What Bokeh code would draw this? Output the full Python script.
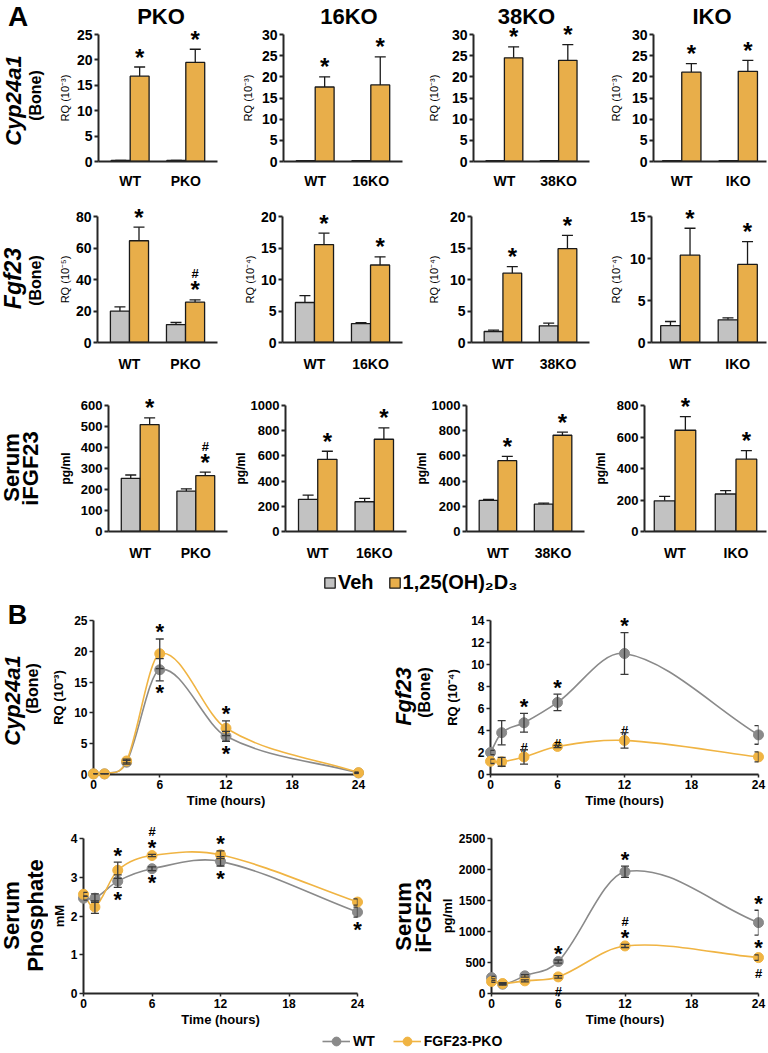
import numpy as np
from bokeh.plotting import figure
from bokeh.models import (ColumnDataSource, FactorRange, Range1d, Whisker, TeeHead,
                          Legend, LegendItem, FixedTicker)
from bokeh.transform import dodge
from bokeh.layouts import row, column
from bokeh.embed import file_html
from bokeh.resources import INLINE
from bokeh.core.properties import value

FONT = "Liberation Sans"
BAR_GRAY = "#C2C2C2"
BAR_ORANGE = "#E8AE4A"
LINE_GRAY = "#8A8A8A"
LINE_ORANGE = "#F0B443"
AXIS = "#262626"
ERR = "#3A3A3A"

# ================= Panel A data =================
genotypes = ["PKO", "16KO", "38KO", "IKO"]

cyp_veh_wt = [0.2, 0.2, 0.2, 0.2]
cyp_veh_wt_err = [0.0, 0.0, 0.0, 0.0]
cyp_d3_wt = [16.8, 17.6, 24.5, 21.1]
cyp_d3_wt_err = [1.8, 2.4, 2.6, 2.0]
cyp_veh_ko = [0.2, 0.2, 0.2, 0.2]
cyp_veh_ko_err = [0.0, 0.0, 0.0, 0.0]
cyp_d3_ko = [19.5, 18.1, 23.9, 21.3]
cyp_d3_ko_err = [2.6, 6.6, 3.7, 2.6]
cyp_ymax = [25, 30, 30, 30]
cyp_ystep = [5, 5, 5, 5]
cyp_ylabel = ["RQ (10⁻³)", "RQ (10⁻³)", "RQ (10⁻³)", "RQ (10⁻³)"]
cyp_hash = ["", "", "", ""]

fgf_veh_wt = [19.9, 6.35, 1.75, 2.0]
fgf_veh_wt_err = [2.7, 1.1, 0.2, 0.5]
fgf_d3_wt = [64.6, 15.55, 11.0, 10.4]
fgf_d3_wt_err = [8.6, 1.8, 1.05, 3.2]
fgf_veh_ko = [11.4, 3.0, 2.65, 2.7]
fgf_veh_ko_err = [1.3, 0.17, 0.42, 0.24]
fgf_d3_ko = [25.6, 12.3, 14.9, 9.3]
fgf_d3_ko_err = [1.5, 1.3, 2.1, 2.7]
fgf_ymax = [80, 20, 20, 15]
fgf_ystep = [20, 5, 5, 5]
fgf_ylabel = ["RQ (10⁻⁵)", "RQ (10⁻⁴)", "RQ (10⁻⁴)", "RQ (10⁻⁴)"]
fgf_hash = ["#", "", "", ""]

ifg_veh_wt = [253, 255, 247, 195]
ifg_veh_wt_err = [16, 34, 8, 28]
ifg_d3_wt = [509, 573, 562, 643]
ifg_d3_wt_err = [32, 64, 35, 87]
ifg_veh_ko = [192, 236, 217, 238]
ifg_veh_ko_err = [11, 27, 8, 21]
ifg_d3_ko = [266, 732, 764, 459]
ifg_d3_ko_err = [17, 90, 24, 55]
ifg_ymax = [600, 1000, 1000, 800]
ifg_ystep = [100, 200, 200, 200]
ifg_ylabel = ["pg/ml", "pg/ml", "pg/ml", "pg/ml"]
ifg_hash = ["#", "", "", ""]

# ================= Panel B data =================
time_h = [0, 1, 3, 6, 12, 24]

b_cyp_wt = [0.1, 0.1, 2.0, 17.0, 6.2, 0.25]
b_cyp_wt_err = [0.05, 0.05, 0.3, 1.8, 0.8, 0.1]
b_cyp_ko = [0.1, 0.1, 2.2, 19.6, 7.5, 0.3]
b_cyp_ko_err = [0.05, 0.05, 0.3, 2.4, 1.2, 0.1]

b_fgf_wt = [2.0, 3.8, 4.7, 6.55, 11.0, 3.6]
b_fgf_wt_err = [0.2, 1.1, 0.85, 0.75, 1.9, 0.85]
b_fgf_ko = [1.2, 1.15, 1.6, 2.55, 3.1, 1.6]
b_fgf_ko_err = [0.2, 0.4, 0.65, 0.1, 0.7, 0.45]

b_pho_wt = [2.46, 2.46, 2.9, 3.22, 3.41, 2.1]
b_pho_wt_err = [0.05, 0.11, 0.16, 0.05, 0.12, 0.13]
b_pho_ko = [2.56, 2.23, 3.18, 3.56, 3.58, 2.36]
b_pho_ko_err = [0.05, 0.16, 0.21, 0.03, 0.1, 0.08]

b_ifg_wt = [257, 150, 285, 515, 1963, 1143]
b_ifg_wt_err = [20, 15, 20, 25, 90, 200]
b_ifg_ko = [193, 161, 204, 268, 767, 579]
b_ifg_ko_err = [15, 15, 15, 20, 25, 45]

b_cyp_marks = [("KO", 6, "above", "*"), ("WT", 6, "below", "*"),
               ("KO", 12, "above", "*"), ("WT", 12, "below", "*")]
b_fgf_marks = [("WT", 3, "above", "*"), ("WT", 6, "above", "*"), ("WT", 12, "above", "*"),
               ("KO", 3, "above", "#"), ("KO", 6, "above", "#"), ("KO", 12, "above", "#")]
b_pho_marks = [("KO", 3, "above", "*"), ("WT", 3, "below", "*"),
               ("KO", 6, "above", "*"), ("KO", 6, "above2", "#"), ("WT", 6, "below", "*"),
               ("KO", 12, "above", "*"), ("WT", 12, "below", "*"), ("WT", 24, "below", "*")]
b_ifg_marks = [("WT", 6, "above", "*"), ("KO", 6, "below", "#"),
               ("WT", 12, "above", "*"), ("KO", 12, "above", "*"), ("KO", 12, "above2", "#"),
               ("WT", 24, "above", "*"), ("KO", 24, "above", "*"), ("KO", 24, "below", "#")]

# style of significance marks: (font size px, screen y offset px, positive = down)
MARK_STYLE = {("above", "*"): (22, -7), ("below", "*"): (22, 12),
              ("above", "#"): (13, -2), ("above2", "#"): (13, -23), ("below", "#"): (13, 13)}


def base_fig(W, H, left, top, fw, fh, x_range, y_range, **kw):
    p = figure(width=W, height=H, x_range=x_range, y_range=y_range,
               output_backend="svg", toolbar_location=None,
               min_border_left=left, min_border_right=W - left - fw,
               min_border_top=top, min_border_bottom=H - top - fh, **kw)
    p.outline_line_color = None
    p.grid.visible = False
    return p


def txt(p, x, y, t, size, style="bold", angle=0.0, align="center", baseline="middle", **kw):
    p.text(x=[x], y=[y], text=[t], angle=angle, text_align=align, text_baseline=baseline,
           text_font=value(FONT), text_font_size=size, text_font_style=style,
           text_color="black", level="overlay", **kw)


def label_fig(W, H, top, fh, labels):
    """labels: (text, x px from left, y px from figure top, size, style, angle)"""
    p = base_fig(W, H, 0, top, W, fh, Range1d(0, W), Range1d(0, fh),
                 x_axis_type=None, y_axis_type=None)
    for (t, x, y, size, style, rot) in labels:
        txt(p, x, top + fh - y, t, size, style, rot)
    return p


BW = 0.34


def bar_panel(i, veh_wt, veh_wt_e, d3_wt, d3_wt_e, veh_ko, veh_ko_e, d3_ko, d3_ko_e,
              hashes, ymax, ystep, ylabel, W, H, left, top, fw, fh, rp, lab_so, xso,
              tick_px, ylab_px, ylab_style, title=None, title_dx=0):
    cats = ["WT", genotypes[i]]
    xr = FactorRange(factors=cats, range_padding=rp, range_padding_units="absolute")
    p = base_fig(W, H, left, top, fw, fh, xr, Range1d(0, ymax[i]))
    src = ColumnDataSource(dict(
        g=cats,
        veh=[veh_wt[i], veh_ko[i]],
        veh_hi=[veh_wt[i] + veh_wt_e[i], veh_ko[i] + veh_ko_e[i]],
        d3=[d3_wt[i], d3_ko[i]],
        d3_hi=[d3_wt[i] + d3_wt_e[i], d3_ko[i] + d3_ko_e[i]],
        star=["*", "*"],
        hash=["", hashes[i]],
    ))
    xl = dodge("g", -BW / 2, range=p.x_range)
    xr_ = dodge("g", BW / 2, range=p.x_range)
    for xx, top_col, hi_col, col in ((xl, "veh", "veh_hi", BAR_GRAY), (xr_, "d3", "d3_hi", BAR_ORANGE)):
        p.add_layout(Whisker(base=xx, lower=top_col, upper=hi_col, source=src,
                             line_color="#1a1a1a", line_width=1.3,
                             upper_head=TeeHead(size=11, line_color="#1a1a1a", line_width=1.3),
                             lower_head=None))
        p.vbar(x=xx, top=top_col, width=BW, source=src, fill_color=col,
               line_color="#1a1a1a", line_width=1.3)
    p.text(x=xr_, y="d3_hi", text="star", source=src, y_offset=-10,
           text_align="center", text_baseline="alphabetic", text_font=value(FONT),
           text_font_size="24px", text_font_style="bold", text_color="black", level="overlay")
    p.text(x=xr_, y="d3_hi", text="hash", source=src, y_offset=-26,
           text_align="center", text_baseline="alphabetic", text_font=value(FONT),
           text_font_size="13px", text_font_style="bold", text_color="black", level="overlay")
    for ax in (p.xaxis[0], p.yaxis[0]):
        ax.axis_line_width = 2
        ax.axis_line_color = AXIS
        ax.minor_tick_line_color = None
        ax.major_label_text_font = FONT
        ax.major_label_text_font_style = "bold"
        ax.major_label_text_color = "black"
    p.xaxis.major_tick_line_color = None
    p.xaxis.major_label_text_font_size = "14px"
    p.xaxis.major_label_standoff = xso
    p.yaxis.ticker = FixedTicker(ticks=list(range(0, ymax[i] + 1, ystep[i])))
    p.yaxis.major_tick_out = 4
    p.yaxis.major_tick_in = 0
    p.yaxis.major_tick_line_width = 2
    p.yaxis.major_tick_line_color = AXIS
    p.yaxis.major_label_text_font_size = tick_px
    p.yaxis.major_label_standoff = 2
    p.yaxis.axis_label = ylabel[i]
    p.yaxis.axis_label_text_font = FONT
    p.yaxis.axis_label_text_font_size = ylab_px
    p.yaxis.axis_label_text_font_style = ylab_style
    p.yaxis.axis_label_text_color = "black"
    p.yaxis.axis_label_standoff = lab_so
    if title:
        tsrc = ColumnDataSource(dict(g=["WT"], y=[ymax[i]], t=[title]))
        p.text(x=dodge("g", 0.5, range=p.x_range), y="y", text="t", source=tsrc,
               x_offset=title_dx, y_offset=-18, text_align="center", text_baseline="middle",
               text_font=value(FONT), text_font_size="22px", text_font_style="bold",
               text_color="black", level="overlay")
    return p


ROT = np.pi / 2

# ---------- panel A, row 1 (Cyp24a1) ----------
W12 = [183, 186, 182, 162]
LEFT1 = [42, 44, 45, 46]
FW1 = [120, 120, 120, 114]
RP12 = [0.07, 0.07, 0.07, 0.0]
SO1 = [3, 5, 9, 7]
TDX = [3, 6, -5, 2]
rowA1 = [bar_panel(i, cyp_veh_wt, cyp_veh_wt_err, cyp_d3_wt, cyp_d3_wt_err, cyp_veh_ko,
                   cyp_veh_ko_err, cyp_d3_ko, cyp_d3_ko_err, cyp_hash, cyp_ymax, cyp_ystep,
                   cyp_ylabel, W12[i], 196, LEFT1[i], 34, FW1[i], 127, RP12[i], SO1[i], 5,
                   "14px", "11px", "normal", title=genotypes[i], title_dx=TDX[i])
         for i in range(4)]
labA1 = label_fig(55, 196, 34, 127, [("A", 17.5, 16, "28px", "bold", 0),
                                     ("Cyp24a1", 13, 100, "22px", "bold italic", ROT),
                                     ("(Bone)", 34.5, 95, "16px", "bold", ROT)])

# ---------- row 2 (Fgf23) ----------
LEFT2 = [42, 44, 45, 44]
FW2 = [120, 120, 120, 116]
SO2 = [2, 2, 7, 5]
rowA2 = [bar_panel(i, fgf_veh_wt, fgf_veh_wt_err, fgf_d3_wt, fgf_d3_wt_err, fgf_veh_ko,
                   fgf_veh_ko_err, fgf_d3_ko, fgf_d3_ko_err, fgf_hash, fgf_ymax, fgf_ystep,
                   fgf_ylabel, W12[i], 184, LEFT2[i], 20, FW2[i], 126, RP12[i], SO2[i],
                   7, "14px", "11px", "normal")
         for i in range(4)]
labA2 = label_fig(55, 184, 20, 126, [("Fgf23", 12, 82, "23px", "bold italic", ROT),
                                     ("(Bone)", 34.5, 84, "16px", "bold", ROT)])

# ---------- row 3 (serum iFGF23) ----------
W3 = [175, 181, 179, 178]
LEFT3 = [48, 52, 49, 51]
FW3 = [124, 124, 124, 125]
RP3 = [0.07, 0.07, 0.07, 0.0]
SO3 = [5, 0, 0, 6]
rowA3 = [bar_panel(i, ifg_veh_wt, ifg_veh_wt_err, ifg_d3_wt, ifg_d3_wt_err, ifg_veh_ko,
                   ifg_veh_ko_err, ifg_d3_ko, ifg_d3_ko_err, ifg_hash, ifg_ymax, ifg_ystep,
                   ifg_ylabel, W3[i], 185, LEFT3[i], 25, FW3[i], 126, RP3[i], SO3[i], 7,
                   "13px", "12px", "bold")
         for i in range(4)]
labA3 = label_fig(55, 185, 25, 126, [("Serum", 11, 87, "22px", "bold", ROT),
                                     ("iFGF23", 30, 88, "22px", "bold", ROT)])

# ---------- panel A legend ----------
legA = figure(width=768, height=35, x_range=Range1d(0, 1), y_range=Range1d(0, 1),
              x_axis_type=None, y_axis_type=None, output_backend="svg",
              toolbar_location=None, min_border=0)
legA.outline_line_color = None
nan1 = np.array([np.nan])
r_veh = legA.vbar(x=np.array([0.5]), top=nan1, width=0.1, fill_color=BAR_GRAY,
                  line_color="#1a1a1a", line_width=1.3)
r_d3 = legA.vbar(x=np.array([0.5]), top=nan1, width=0.1, fill_color=BAR_ORANGE,
                 line_color="#1a1a1a", line_width=1.3)
legA.add_layout(Legend(items=[LegendItem(label="Veh", renderers=[r_veh]),
                              LegendItem(label="1,25(OH)₂D₃", renderers=[r_d3])],
                       location=(323, 6), orientation="horizontal", glyph_width=13,
                       glyph_height=13, label_standoff=2, spacing=14, padding=0, margin=0,
                       border_line_color=None, background_fill_alpha=0,
                       label_text_font=FONT, label_text_font_size="20px",
                       label_text_font_style="bold", label_text_color="black"))


# ================= Panel B =================
def smooth_bezier(x, y):
    """Cubic (Catmull-Rom type) curve through the points, as Bezier segments."""
    x = np.asarray(x, float)
    y = np.asarray(y, float)
    n = len(x)
    m = np.empty(n)
    m[0] = (y[1] - y[0]) / (x[1] - x[0])
    m[-1] = (y[-1] - y[-2]) / (x[-1] - x[-2])
    m[1:-1] = (y[2:] - y[:-2]) / (x[2:] - x[:-2])
    h = np.diff(x)
    return dict(x0=x[:-1], y0=y[:-1], x1=x[1:], y1=y[1:],
                cx0=x[:-1] + h / 3, cy0=y[:-1] + m[:-1] * h / 3,
                cx1=x[1:] - h / 3, cy1=y[1:] - m[1:] * h / 3)


def line_panel(wt, wt_e, ko, ko_e, marks, ymax, ystep, ylabel, W, H, left, top, fw, fh, lab_so):
    p = base_fig(W, H, left, top, fw, fh, Range1d(0, 24), Range1d(0, ymax))
    series = (("WT", wt, wt_e, LINE_GRAY), ("KO", ko, ko_e, LINE_ORANGE))
    for name, vals, errs, col in series:
        p.bezier(x0="x0", y0="y0", x1="x1", y1="y1", cx0="cx0", cy0="cy0", cx1="cx1", cy1="cy1",
                 source=ColumnDataSource(smooth_bezier(time_h, vals)), line_color=col, line_width=1.6)
    for name, vals, errs, col in series:
        src = ColumnDataSource(dict(t=time_h, v=vals,
                                    lo=[v - e for v, e in zip(vals, errs)],
                                    hi=[v + e for v, e in zip(vals, errs)]))
        p.scatter("t", "v", source=src, size=10, fill_color=col, line_color=col, level="overlay")
        p.add_layout(Whisker(base="t", lower="lo", upper="hi", source=src, level="overlay",
                             line_color=ERR, line_width=1.3,
                             upper_head=TeeHead(size=8, line_color=ERR, line_width=1.3),
                             lower_head=TeeHead(size=8, line_color=ERR, line_width=1.3)))
    groups = {}
    for name, t, pos, sym in marks:
        k = time_h.index(t)
        v, e = (wt[k], wt_e[k]) if name == "WT" else (ko[k], ko_e[k])
        y = v - e if pos == "below" else v + e
        g = groups.setdefault((pos, sym), dict(t=[], y=[], s=[]))
        g["t"].append(t)
        g["y"].append(y)
        g["s"].append(sym)
    for key, g in groups.items():
        size, off = MARK_STYLE[key]
        p.text(x="t", y="y", text="s", source=ColumnDataSource(g), y_offset=off,
               text_align="center", text_baseline="alphabetic", text_font=value(FONT),
               text_font_size=f"{size}px", text_font_style="bold", text_color="black",
               level="overlay")
    for ax in (p.xaxis[0], p.yaxis[0]):
        ax.axis_line_width = 2
        ax.axis_line_color = AXIS
        ax.minor_tick_line_color = None
        ax.major_tick_in = 0
        ax.major_tick_line_width = 1.5
        ax.major_tick_line_color = AXIS
        ax.major_label_text_font = FONT
        ax.major_label_text_font_size = "12px"
        ax.major_label_text_font_style = "bold"
        ax.major_label_text_color = "black"
        ax.major_label_standoff = 2
        ax.axis_label_text_font = FONT
        ax.axis_label_text_font_size = "13px"
        ax.axis_label_text_font_style = "bold"
        ax.axis_label_text_color = "black"
    p.xaxis.ticker = FixedTicker(ticks=[0, 6, 12, 18, 24])
    p.xaxis.major_tick_out = 3
    p.xaxis.axis_label = "Time (hours)"
    p.xaxis.axis_label_standoff = 1
    p.yaxis.ticker = FixedTicker(ticks=list(np.arange(0, ymax + 0.001, ystep)))
    p.yaxis.major_tick_out = 4
    p.yaxis.axis_label = ylabel
    p.yaxis.axis_label_standoff = lab_so
    return p


P1 = line_panel(b_cyp_wt, b_cyp_wt_err, b_cyp_ko, b_cyp_ko_err, b_cyp_marks, 25, 5,
                "RQ (10⁻³)", 344, 212, 42, 20, 268, 154, 5)
P2 = line_panel(b_fgf_wt, b_fgf_wt_err, b_fgf_ko, b_fgf_ko_err, b_fgf_marks, 14, 2,
                "RQ (10⁻⁴)", 332, 212, 54, 20, 268, 154, 8)
P3 = line_panel(b_pho_wt, b_pho_wt_err, b_pho_ko, b_pho_ko_err, b_pho_marks, 4, 1,
                "mM", 344, 217, 35, 26, 274, 155, 1)
P4 = line_panel(b_ifg_wt, b_ifg_wt_err, b_ifg_ko, b_ifg_ko_err, b_ifg_marks, 2500, 500,
                "pg/ml", 332, 217, 54, 26, 268, 155, 1)

labB1 = label_fig(48, 212, 20, 154, [("B", 17, 14, "27px", "bold", 0),
                                     ("Cyp24a1", 11.5, 100, "22px", "bold italic", ROT),
                                     ("(Bone)", 32, 88, "16px", "bold", ROT)])
labB2 = label_fig(44, 212, 20, 154, [("Fgf23", 11, 96, "22px", "bold italic", ROT),
                                     ("(Bone)", 32, 92, "16px", "bold", ROT)])
labB3 = label_fig(48, 217, 26, 155, [("Serum", 11, 103, "22px", "bold", ROT),
                                     ("Phosphate", 35, 103, "22px", "bold", ROT)])
labB4 = label_fig(44, 217, 26, 155, [("Serum", 11, 104, "22px", "bold", ROT),
                                     ("iFGF23", 31, 103, "22px", "bold", ROT)])

# ---------- panel B legend ----------
legB = figure(width=768, height=23, x_range=Range1d(0, 1), y_range=Range1d(0, 1),
              x_axis_type=None, y_axis_type=None, output_backend="svg",
              toolbar_location=None, min_border=0)
legB.outline_line_color = None
l_wt = legB.line(x=np.array([0.5]), y=nan1, line_color=LINE_GRAY, line_width=1.6)
s_wt = legB.scatter(x=np.array([0.5]), y=nan1, fill_color=LINE_GRAY, line_color=LINE_GRAY)
l_ko = legB.line(x=np.array([0.5]), y=nan1, line_color=LINE_ORANGE, line_width=1.6)
s_ko = legB.scatter(x=np.array([0.5]), y=nan1, fill_color=LINE_ORANGE, line_color=LINE_ORANGE)
legB.add_layout(Legend(items=[LegendItem(label="WT", renderers=[l_wt, s_wt]),
                              LegendItem(label="FGF23-PKO", renderers=[l_ko, s_ko])],
                       location=(322, 0), orientation="horizontal", glyph_width=28,
                       glyph_height=22, label_standoff=3, spacing=18, padding=0, margin=0,
                       border_line_color=None, background_fill_alpha=0,
                       label_text_font=FONT, label_text_font_size="14px",
                       label_text_font_style="bold", label_text_color="black"))

layout = column(
    row(labA1, *rowA1),
    row(labA2, *rowA2),
    row(labA3, *rowA3),
    legA,
    row(labB1, P1, labB2, P2),
    row(labB3, P3, labB4, P4),
    legB,
)

open("out.html", "w").write(file_html(layout, INLINE))
